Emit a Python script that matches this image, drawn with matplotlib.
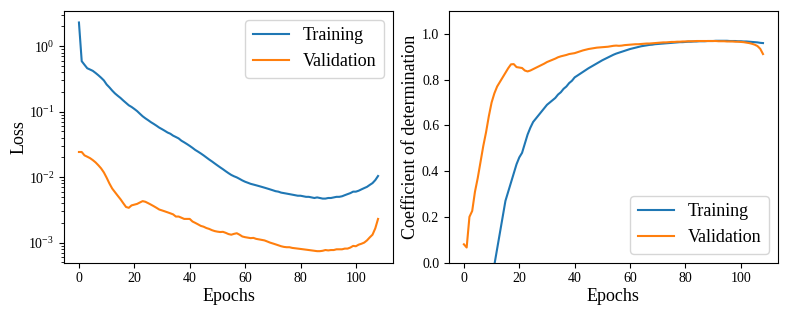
import matplotlib
matplotlib.use("Agg")
from matplotlib import pyplot as plt
import numpy as np

plt.rcParams['font.family'] = ['Liberation Serif', 'DejaVu Serif']
plt.rcParams['mathtext.fontset'] = 'stix'

epochs = np.arange(109)

train_loss = [2.3, 0.59, 0.52, 0.46, 0.44, 0.42, 0.39, 0.36, 0.33, 0.30,
              0.26, 0.235, 0.21, 0.19, 0.175, 0.162, 0.148, 0.136, 0.125, 0.118,
              0.11, 0.102, 0.093, 0.085, 0.079, 0.074, 0.069, 0.065, 0.061, 0.057,
              0.054, 0.051, 0.048, 0.046, 0.043, 0.041, 0.039, 0.036, 0.034, 0.032,
              0.030, 0.028, 0.026, 0.0245, 0.023, 0.0215, 0.020, 0.0186, 0.0174, 0.0162,
              0.0151, 0.0141, 0.0132, 0.0123, 0.0115, 0.0108, 0.0103, 0.0099, 0.0094, 0.0089,
              0.0085, 0.0082, 0.0079, 0.0077, 0.0075, 0.0073, 0.0071, 0.0069, 0.0067, 0.0065,
              0.0063, 0.0061, 0.0060, 0.0058, 0.0057, 0.0056, 0.0055, 0.0054, 0.0053, 0.0052,
              0.0052, 0.0051, 0.0050, 0.0050, 0.0049, 0.0048, 0.0049, 0.0048, 0.0047, 0.0047,
              0.0048, 0.0048, 0.0049, 0.0050, 0.0050, 0.0051, 0.0053, 0.0055, 0.0057, 0.0060,
              0.0060, 0.0062, 0.0065, 0.0068, 0.0071, 0.0076, 0.0081, 0.0090, 0.0104]

val_loss = [0.0242, 0.0242, 0.0215, 0.0205, 0.0195, 0.0182, 0.0168, 0.0152, 0.0136, 0.0118,
            0.0098, 0.0080, 0.0067, 0.0059, 0.0052, 0.0046, 0.0040, 0.0035, 0.0034, 0.0037,
            0.0038, 0.0039, 0.0041, 0.0043, 0.0042, 0.0040, 0.0038, 0.0036, 0.0034, 0.0032,
            0.0031, 0.0030, 0.0029, 0.0028, 0.0027, 0.0025, 0.0025, 0.0024, 0.0023, 0.0023,
            0.0023, 0.0021, 0.0020, 0.0019, 0.0018, 0.00175, 0.00167, 0.00162, 0.00155, 0.0015,
            0.00147, 0.00145, 0.00146, 0.00141, 0.00135, 0.00132, 0.00136, 0.00139, 0.00132, 0.00124,
            0.00121, 0.00119, 0.00117, 0.00118, 0.00114, 0.00112, 0.00110, 0.00108, 0.00104, 0.00100,
            0.00097, 0.00094, 0.00091, 0.00088, 0.00086, 0.00085, 0.00085, 0.00083, 0.00082, 0.00081,
            0.00080, 0.00079, 0.00078, 0.00077, 0.00076, 0.00075, 0.00074, 0.00074, 0.00075, 0.00077,
            0.00076, 0.00077, 0.00077, 0.00079, 0.00079, 0.00079, 0.00081, 0.00081, 0.00084, 0.00089,
            0.00088, 0.00093, 0.00096, 0.00100, 0.00108, 0.00120, 0.00132, 0.00165, 0.0023]

train_r2 = [-9.5, -2.8, -2.1, -1.7, -1.3, -1.0, -0.75, -0.55, -0.38, -0.24,
            -0.12, -0.01, 0.06, 0.13, 0.20, 0.27, 0.31, 0.35, 0.39, 0.43,
            0.46, 0.48, 0.52, 0.56, 0.59, 0.615, 0.63, 0.645, 0.66, 0.675,
            0.69, 0.70, 0.71, 0.72, 0.735, 0.745, 0.76, 0.77, 0.785, 0.795,
            0.81, 0.818, 0.826, 0.834, 0.842, 0.85, 0.857, 0.864, 0.871, 0.878,
            0.885, 0.891, 0.897, 0.903, 0.909, 0.914, 0.918, 0.922, 0.926, 0.93,
            0.934, 0.937, 0.940, 0.943, 0.946, 0.948, 0.950, 0.952, 0.953, 0.955,
            0.956, 0.957, 0.958, 0.959, 0.960, 0.961, 0.962, 0.963, 0.964, 0.964,
            0.965, 0.966, 0.966, 0.967, 0.967, 0.968, 0.968, 0.968, 0.969, 0.969,
            0.969, 0.97, 0.97, 0.97, 0.97, 0.97, 0.969, 0.969, 0.969, 0.968,
            0.968, 0.967, 0.967, 0.966, 0.965, 0.964, 0.963, 0.961, 0.96]

val_r2 = [0.08, 0.066, 0.20, 0.226, 0.31, 0.37, 0.44, 0.51, 0.57, 0.64,
          0.70, 0.74, 0.77, 0.79, 0.81, 0.83, 0.85, 0.867, 0.868, 0.855,
          0.853, 0.851, 0.840, 0.836, 0.840, 0.846, 0.852, 0.858, 0.864, 0.870,
          0.877, 0.882, 0.887, 0.892, 0.898, 0.902, 0.905, 0.908, 0.912, 0.914,
          0.916, 0.92, 0.924, 0.928, 0.931, 0.934, 0.936, 0.938, 0.940, 0.941,
          0.942, 0.943, 0.944, 0.946, 0.948, 0.949, 0.948, 0.949, 0.951, 0.952,
          0.953, 0.954, 0.955, 0.955, 0.956, 0.957, 0.958, 0.958, 0.959, 0.960,
          0.961, 0.962, 0.963, 0.963, 0.964, 0.965, 0.965, 0.966, 0.966, 0.967,
          0.967, 0.968, 0.968, 0.968, 0.969, 0.969, 0.969, 0.969, 0.969, 0.969,
          0.969, 0.969, 0.968, 0.968, 0.968, 0.967, 0.967, 0.967, 0.966, 0.966,
          0.965, 0.964, 0.962, 0.96, 0.957, 0.953, 0.947, 0.935, 0.912]

fig = plt.figure(figsize=(7.89, 3.16), dpi=100)
ax1 = fig.add_axes([0.0811, 0.169, 0.417, 0.796])
ax2 = fig.add_axes([0.569, 0.169, 0.417, 0.796])

# loss
ax1.plot(epochs, train_loss, label='Training')
ax1.plot(epochs, val_loss, label='Validation')
ax1.set_yscale('log')
ax1.set_xlabel('Epochs', fontsize=13, labelpad=2)
ax1.set_ylabel('Loss', fontsize=13, labelpad=1)
ax1.tick_params(labelsize=10)
ax1.legend(loc='upper right', fontsize=13)

# R2
ax2.plot(epochs, train_r2, label='Training')
ax2.plot(epochs, val_r2, label='Validation')
ax2.set_ylim(0, 1.1)
ax2.set_xlabel('Epochs', fontsize=13, labelpad=2)
ax2.set_ylabel('Coefficient of determination', fontsize=13, labelpad=2)
ax2.tick_params(labelsize=10)
ax2.legend(loc='lower right', fontsize=13)

fig.savefig('out.png', dpi=100)
